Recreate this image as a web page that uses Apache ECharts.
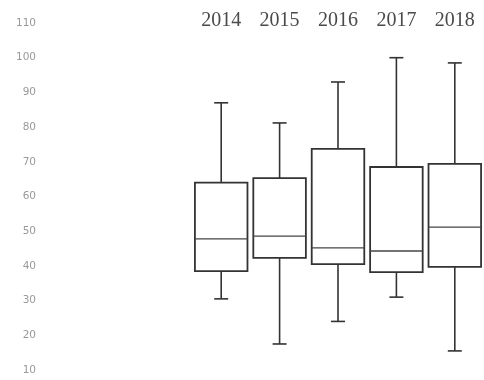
<!DOCTYPE html>
<html>
<head>
<meta charset="utf-8">
<script src="https://cdn.jsdelivr.net/npm/echarts@6/dist/echarts.min.js"></script>
<style>html,body{margin:0;padding:0;background:#fff}#c{width:484px;height:380px}</style>
</head>
<body>
<div id="c"></div>
<script>
var categories = ['2014', '2015', '2016', '2017', '2018'];
var lowValues = [30.5, 17.5, 24, 31, 15.5];
var q1Values = [38.5, 42.3, 40.5, 38.2, 39.7];
var medianValues = [47.8, 48.6, 45.2, 44.3, 51.2];
var q3Values = [64, 65.3, 73.7, 68.5, 69.4];
var highValues = [87, 81.2, 93, 100, 98.5];
var yTicks = [10, 20, 30, 40, 50, 60, 70, 80, 90, 100, 110];

var data = categories.map(function (c, i) {
  return [i, lowValues[i], q1Values[i], medianValues[i], q3Values[i], highValues[i]];
});

var chart = echarts.init(document.getElementById('c'));
chart.setOption({
  animation: false,
  backgroundColor: '#fff',
  grid: { left: 192, right: -8, top: 23, bottom: 10 },
  xAxis: {
    type: 'category',
    position: 'top',
    data: categories,
    axisLine: { show: false },
    axisTick: { show: false },
    axisLabel: { margin: -8, fontFamily: 'Liberation Serif', fontSize: 20, color: '#4a4a4a' }
  },
  yAxis: {
    type: 'value',
    min: yTicks[0],
    max: yTicks[yTicks.length - 1],
    interval: 10,
    offset: 148,
    axisLine: { show: false },
    axisTick: { show: false },
    splitLine: { show: false },
    axisLabel: { fontFamily: 'DejaVu Sans', fontSize: 10.5, color: '#999' }
  },
  series: [{
    type: 'custom',
    data: data,
    encode: { x: 0, y: [1, 2, 3, 4, 5] },
    renderItem: function (params, api) {
      var idx = api.value(0);
      var pLow = api.coord([idx, api.value(1)]);
      var pQ1 = api.coord([idx, api.value(2)]);
      var pMed = api.coord([idx, api.value(3)]);
      var pQ3 = api.coord([idx, api.value(4)]);
      var pHigh = api.coord([idx, api.value(5)]);
      var bw = api.size([1, 0])[0] * 0.9;
      var half = bw / 2;
      var cap = 7;
      var x = pMed[0];
      var st = { stroke: '#333', lineWidth: 1.6, fill: null };
      return {
        type: 'group',
        children: [
          { type: 'line', shape: { x1: x, y1: pHigh[1], x2: x, y2: pQ3[1] }, style: st },
          { type: 'line', shape: { x1: x, y1: pQ1[1], x2: x, y2: pLow[1] }, style: st },
          { type: 'line', shape: { x1: x - cap, y1: pHigh[1], x2: x + cap, y2: pHigh[1] }, style: st },
          { type: 'line', shape: { x1: x - cap, y1: pLow[1], x2: x + cap, y2: pLow[1] }, style: st },
          { type: 'rect', shape: { x: x - half, y: pQ3[1], width: bw, height: pQ1[1] - pQ3[1] }, style: { stroke: '#333', lineWidth: 1.8, fill: '#fff' } },
          { type: 'line', shape: { x1: x - half, y1: pMed[1], x2: x + half, y2: pMed[1] }, style: { stroke: '#444', lineWidth: 1.3 } }
        ]
      };
    }
  }]
});
</script>
</body>
</html>
